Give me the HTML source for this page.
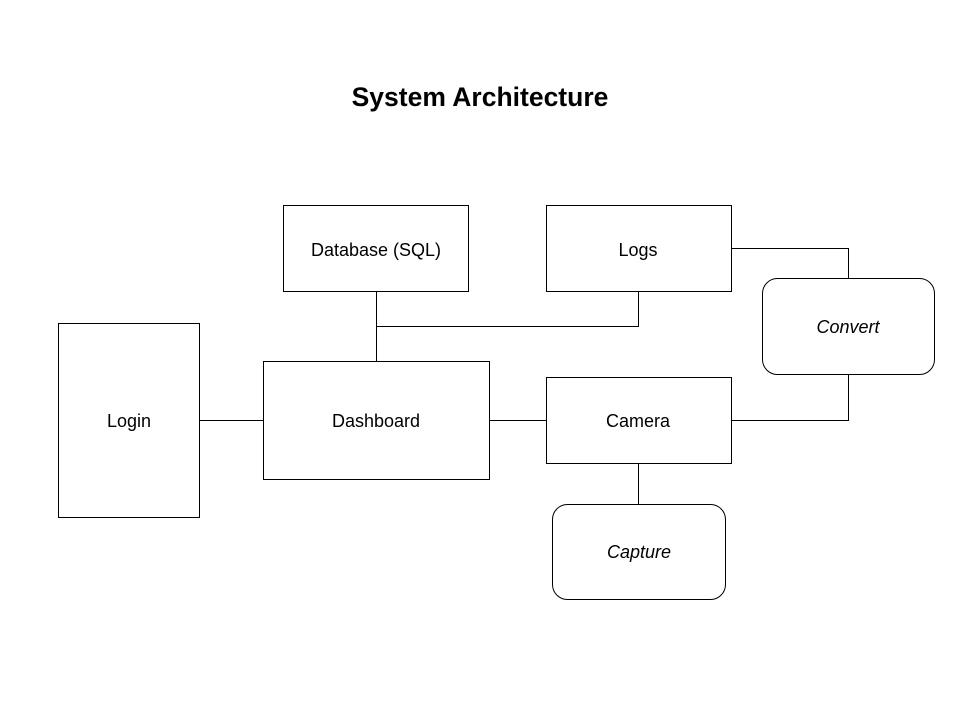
<!DOCTYPE html>
<html><head><meta charset="utf-8"><style>
html,body{margin:0;padding:0;background:#fff;}
svg{display:block;}
text{font-family:"Liberation Sans",Arial,sans-serif;}
</style></head><body>
<svg width="960" height="720" viewBox="0 0 960 720" xmlns="http://www.w3.org/2000/svg">
<rect width="960" height="720" fill="#fff"/>
<text x="480" y="106" text-anchor="middle" font-size="26.5" font-weight="bold" fill="#000">System Architecture</text>
<g fill="none" stroke="#000" stroke-width="1">
<path d="M376.5 291.5V361.5M376.5 326.5H638.5V291.5"/>
<path d="M731.5 248.5H848.5V278.5"/>
<path d="M848.5 374.5V420.5H731.5"/>
<path d="M199.5 420.5H263.5"/>
<path d="M489.5 420.5H546.5"/>
<path d="M638.5 463.5V504.5"/>
<rect x="283.5" y="205.5" width="185" height="86"/>
<rect x="546.5" y="205.5" width="185" height="86"/>
<rect x="762.5" y="278.5" width="172" height="96" rx="15"/>
<rect x="58.5" y="323.5" width="141" height="194"/>
<rect x="263.5" y="361.5" width="226" height="118"/>
<rect x="546.5" y="377.5" width="185" height="86"/>
<rect x="552.5" y="504.5" width="173" height="95" rx="15"/>
</g>
<g font-size="18" fill="#000" text-anchor="middle">
<text x="376" y="256">Database (SQL)</text>
<text x="638" y="256">Logs</text>
<text x="848" y="333" font-style="italic">Convert</text>
<text x="129" y="427">Login</text>
<text x="376" y="427">Dashboard</text>
<text x="638" y="427">Camera</text>
<text x="639" y="558" font-style="italic">Capture</text>
</g>
</svg>
</body></html>
